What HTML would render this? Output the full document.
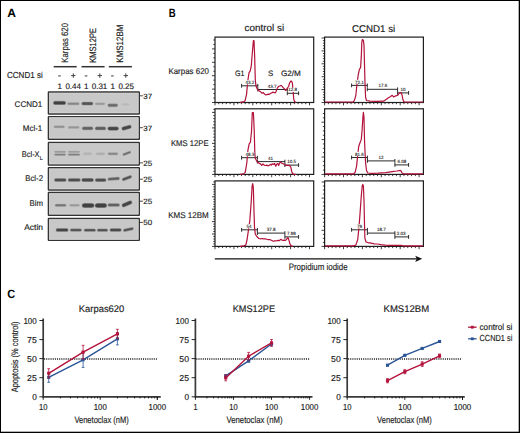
<!DOCTYPE html>
<html><head><meta charset="utf-8"><style>
html,body{margin:0;padding:0;background:#fff;}
svg{display:block;}
text{font-family:"Liberation Sans", sans-serif;text-rendering:geometricPrecision;}
</style></head><body>
<svg width="520" height="433" viewBox="0 0 520 433">
<rect x="0" y="0" width="520" height="433" fill="#000"/>
<rect x="1" y="1" width="517.7" height="430.7" fill="#fff"/>
<text x="7.2" y="16.8" font-size="12" text-anchor="start" font-weight="bold" fill="#000" textLength="8.7" lengthAdjust="spacingAndGlyphs" >A</text>
<text transform="translate(68.3,62.7) rotate(-90)" x="0" y="0" font-size="9.3" fill="#1a1a1a" stroke="#1a1a1a" stroke-width="0.15" textLength="39.7" lengthAdjust="spacingAndGlyphs">Karpas 620</text>
<text transform="translate(96.1,62.7) rotate(-90)" x="0" y="0" font-size="9.3" fill="#1a1a1a" stroke="#1a1a1a" stroke-width="0.15" textLength="34.6" lengthAdjust="spacingAndGlyphs">KMS12PE</text>
<text transform="translate(122.8,62.7) rotate(-90)" x="0" y="0" font-size="9.3" fill="#1a1a1a" stroke="#1a1a1a" stroke-width="0.15" textLength="38.2" lengthAdjust="spacingAndGlyphs">KMS12BM</text>
<line x1="53.7" y1="66.7" x2="76.7" y2="66.7" stroke="#333" stroke-width="1.5"/>
<line x1="81.5" y1="66.7" x2="104.6" y2="66.7" stroke="#333" stroke-width="1.5"/>
<line x1="108.8" y1="66.7" x2="131.9" y2="66.7" stroke="#333" stroke-width="1.5"/>
<text x="7" y="78.3" font-size="8.7" text-anchor="start" font-weight="normal" fill="#1a1a1a" stroke="#1a1a1a" stroke-width="0.15" textLength="35.7" lengthAdjust="spacingAndGlyphs" >CCND1 si</text>
<line x1="58.2" y1="75.9" x2="60.8" y2="75.9" stroke="#666" stroke-width="1.3"/>
<line x1="84.8" y1="75.9" x2="87.39999999999999" y2="75.9" stroke="#666" stroke-width="1.3"/>
<line x1="111.10000000000001" y1="75.9" x2="113.7" y2="75.9" stroke="#666" stroke-width="1.3"/>
<path d="M71.1 75.6 H75.5 M73.3 73.4 V77.8" stroke="#333" stroke-width="0.9"/>
<path d="M97.6 75.6 H102.0 M99.8 73.4 V77.8" stroke="#333" stroke-width="0.9"/>
<path d="M123.6 75.6 H128.0 M125.8 73.4 V77.8" stroke="#333" stroke-width="0.9"/>
<text x="59.8" y="89" font-size="8" text-anchor="middle" font-weight="normal" fill="#1a1a1a" stroke="#1a1a1a" stroke-width="0.15" >1</text>
<text x="73.2" y="89" font-size="8" text-anchor="middle" font-weight="normal" fill="#1a1a1a" stroke="#1a1a1a" stroke-width="0.15" >0.44</text>
<text x="86.3" y="89" font-size="8" text-anchor="middle" font-weight="normal" fill="#1a1a1a" stroke="#1a1a1a" stroke-width="0.15" >1</text>
<text x="99.5" y="89" font-size="8" text-anchor="middle" font-weight="normal" fill="#1a1a1a" stroke="#1a1a1a" stroke-width="0.15" >0.31</text>
<text x="112.7" y="89" font-size="8" text-anchor="middle" font-weight="normal" fill="#1a1a1a" stroke="#1a1a1a" stroke-width="0.15" >1</text>
<text x="126.2" y="89" font-size="8" text-anchor="middle" font-weight="normal" fill="#1a1a1a" stroke="#1a1a1a" stroke-width="0.15" >0.25</text>
<defs><filter id="bl" x="-20%" y="-20%" width="140%" height="140%"><feGaussianBlur stdDeviation="0.7"/></filter></defs>
<rect x="48.4" y="92.0" width="90.9" height="21.95" rx="0.3" fill="#c8c8c8" stroke="#333333" stroke-width="1.4"/>
<rect x="49.6" y="93.2" width="88.5" height="19.55" fill="none" stroke="#d6d6d6" stroke-width="0.7"/>
<g><path d="M55.04 102.9 H64.06" stroke="rgb(57,57,57)" stroke-opacity="0.3" stroke-width="4.10" stroke-linecap="round" transform="rotate(0.0 59.55 102.9)"/><path d="M55.04 102.9 H64.06" stroke="rgb(57,57,57)" stroke-opacity="0.5" stroke-width="3.30" stroke-linecap="round" transform="rotate(0.0 59.55 102.9)"/><path d="M55.04 102.9 H64.06" stroke="rgb(57,57,57)" stroke-opacity="0.85" stroke-width="2.50" stroke-linecap="round" transform="rotate(0.0 59.55 102.9)"/><path d="M68.60 103.7 H78.10" stroke="rgb(132,132,132)" stroke-opacity="0.3" stroke-width="3.00" stroke-linecap="round" transform="rotate(0.0 73.35 103.7)"/><path d="M68.60 103.7 H78.10" stroke="rgb(132,132,132)" stroke-opacity="0.5" stroke-width="2.20" stroke-linecap="round" transform="rotate(0.0 73.35 103.7)"/><path d="M68.60 103.7 H78.10" stroke="rgb(132,132,132)" stroke-opacity="0.85" stroke-width="1.40" stroke-linecap="round" transform="rotate(0.0 73.35 103.7)"/><path d="M83.22 103.6 H91.48" stroke="rgb(77,77,77)" stroke-opacity="0.3" stroke-width="3.80" stroke-linecap="round" transform="rotate(0.0 87.35 103.6)"/><path d="M83.22 103.6 H91.48" stroke="rgb(77,77,77)" stroke-opacity="0.5" stroke-width="3.00" stroke-linecap="round" transform="rotate(0.0 87.35 103.6)"/><path d="M83.22 103.6 H91.48" stroke="rgb(77,77,77)" stroke-opacity="0.85" stroke-width="2.20" stroke-linecap="round" transform="rotate(0.0 87.35 103.6)"/><path d="M96.32 103.8 H103.78" stroke="rgb(147,147,147)" stroke-opacity="0.3" stroke-width="2.80" stroke-linecap="round" transform="rotate(0.0 100.05000000000001 103.8)"/><path d="M96.32 103.8 H103.78" stroke="rgb(147,147,147)" stroke-opacity="0.5" stroke-width="2.00" stroke-linecap="round" transform="rotate(0.0 100.05000000000001 103.8)"/><path d="M96.32 103.8 H103.78" stroke="rgb(147,147,147)" stroke-opacity="0.85" stroke-width="1.20" stroke-linecap="round" transform="rotate(0.0 100.05000000000001 103.8)"/><path d="M109.28 105.3 H116.22" stroke="rgb(102,102,102)" stroke-opacity="0.3" stroke-width="3.70" stroke-linecap="round" transform="rotate(0.0 112.75 105.3)"/><path d="M109.28 105.3 H116.22" stroke="rgb(102,102,102)" stroke-opacity="0.5" stroke-width="2.90" stroke-linecap="round" transform="rotate(0.0 112.75 105.3)"/><path d="M109.28 105.3 H116.22" stroke="rgb(102,102,102)" stroke-opacity="0.85" stroke-width="2.10" stroke-linecap="round" transform="rotate(0.0 112.75 105.3)"/><path d="M122.62 104.4 H128.48" stroke="rgb(182,182,182)" stroke-opacity="0.3" stroke-width="2.30" stroke-linecap="round" transform="rotate(0.0 125.55 104.4)"/><path d="M122.62 104.4 H128.48" stroke="rgb(182,182,182)" stroke-opacity="0.5" stroke-width="1.50" stroke-linecap="round" transform="rotate(0.0 125.55 104.4)"/><path d="M122.62 104.4 H128.48" stroke="rgb(182,182,182)" stroke-opacity="0.85" stroke-width="0.70" stroke-linecap="round" transform="rotate(0.0 125.55 104.4)"/></g>
<rect x="48.4" y="116.60000000000001" width="90.9" height="22.60" rx="0.3" fill="#c8c8c8" stroke="#333333" stroke-width="1.4"/>
<rect x="49.6" y="117.80000000000001" width="88.5" height="20.20" fill="none" stroke="#d6d6d6" stroke-width="0.7"/>
<g><path d="M55.14 126.8 H63.36" stroke="rgb(142,142,142)" stroke-opacity="0.3" stroke-width="3.10" stroke-linecap="round" transform="rotate(0.0 59.25 126.8)"/><path d="M55.14 126.8 H63.36" stroke="rgb(142,142,142)" stroke-opacity="0.5" stroke-width="2.30" stroke-linecap="round" transform="rotate(0.0 59.25 126.8)"/><path d="M55.14 126.8 H63.36" stroke="rgb(142,142,142)" stroke-opacity="0.85" stroke-width="1.50" stroke-linecap="round" transform="rotate(0.0 59.25 126.8)"/><path d="M69.30 127.4 H78.10" stroke="rgb(147,147,147)" stroke-opacity="0.3" stroke-width="3.00" stroke-linecap="round" transform="rotate(0.0 73.69999999999999 127.4)"/><path d="M69.30 127.4 H78.10" stroke="rgb(147,147,147)" stroke-opacity="0.5" stroke-width="2.20" stroke-linecap="round" transform="rotate(0.0 73.69999999999999 127.4)"/><path d="M69.30 127.4 H78.10" stroke="rgb(147,147,147)" stroke-opacity="0.85" stroke-width="1.40" stroke-linecap="round" transform="rotate(0.0 73.69999999999999 127.4)"/><path d="M83.72 128.3 H91.48" stroke="rgb(92,92,92)" stroke-opacity="0.3" stroke-width="3.80" stroke-linecap="round" transform="rotate(0.0 87.6 128.3)"/><path d="M83.72 128.3 H91.48" stroke="rgb(92,92,92)" stroke-opacity="0.5" stroke-width="3.00" stroke-linecap="round" transform="rotate(0.0 87.6 128.3)"/><path d="M83.72 128.3 H91.48" stroke="rgb(92,92,92)" stroke-opacity="0.85" stroke-width="2.20" stroke-linecap="round" transform="rotate(0.0 87.6 128.3)"/><path d="M96.76 128.4 H104.24" stroke="rgb(87,87,87)" stroke-opacity="0.3" stroke-width="3.90" stroke-linecap="round" transform="rotate(0.0 100.5 128.4)"/><path d="M96.76 128.4 H104.24" stroke="rgb(87,87,87)" stroke-opacity="0.5" stroke-width="3.10" stroke-linecap="round" transform="rotate(0.0 100.5 128.4)"/><path d="M96.76 128.4 H104.24" stroke="rgb(87,87,87)" stroke-opacity="0.85" stroke-width="2.30" stroke-linecap="round" transform="rotate(0.0 100.5 128.4)"/><path d="M109.52 128.6 H116.78" stroke="rgb(62,62,62)" stroke-opacity="0.3" stroke-width="4.30" stroke-linecap="round" transform="rotate(0.0 113.15 128.6)"/><path d="M109.52 128.6 H116.78" stroke="rgb(62,62,62)" stroke-opacity="0.5" stroke-width="3.50" stroke-linecap="round" transform="rotate(0.0 113.15 128.6)"/><path d="M109.52 128.6 H116.78" stroke="rgb(62,62,62)" stroke-opacity="0.85" stroke-width="2.70" stroke-linecap="round" transform="rotate(0.0 113.15 128.6)"/><path d="M123.34 127.7 H129.76" stroke="rgb(62,62,62)" stroke-opacity="0.3" stroke-width="4.10" stroke-linecap="round" transform="rotate(-15.6 126.55 127.7)"/><path d="M123.34 127.7 H129.76" stroke="rgb(62,62,62)" stroke-opacity="0.5" stroke-width="3.30" stroke-linecap="round" transform="rotate(-15.6 126.55 127.7)"/><path d="M123.34 127.7 H129.76" stroke="rgb(62,62,62)" stroke-opacity="0.85" stroke-width="2.50" stroke-linecap="round" transform="rotate(-15.6 126.55 127.7)"/></g>
<rect x="48.4" y="142.5" width="90.9" height="22.55" rx="0.3" fill="#c8c8c8" stroke="#333333" stroke-width="1.4"/>
<rect x="49.6" y="143.70000000000002" width="88.5" height="20.15" fill="none" stroke="#d6d6d6" stroke-width="0.7"/>
<g><path d="M55.28 151.8 H64.82" stroke="rgb(142,142,142)" stroke-opacity="0.3" stroke-width="2.20" stroke-linecap="round" transform="rotate(0.0 60.05 151.8)"/><path d="M55.28 151.8 H64.82" stroke="rgb(142,142,142)" stroke-opacity="0.5" stroke-width="1.40" stroke-linecap="round" transform="rotate(0.0 60.05 151.8)"/><path d="M55.28 151.8 H64.82" stroke="rgb(142,142,142)" stroke-opacity="0.85" stroke-width="0.60" stroke-linecap="round" transform="rotate(0.0 60.05 151.8)"/><path d="M55.36 154.6 H64.74" stroke="rgb(117,117,117)" stroke-opacity="0.3" stroke-width="2.40" stroke-linecap="round" transform="rotate(0.0 60.05 154.6)"/><path d="M55.36 154.6 H64.74" stroke="rgb(117,117,117)" stroke-opacity="0.5" stroke-width="1.60" stroke-linecap="round" transform="rotate(0.0 60.05 154.6)"/><path d="M55.36 154.6 H64.74" stroke="rgb(117,117,117)" stroke-opacity="0.85" stroke-width="0.80" stroke-linecap="round" transform="rotate(0.0 60.05 154.6)"/><path d="M68.98 151.8 H79.02" stroke="rgb(147,147,147)" stroke-opacity="0.3" stroke-width="2.20" stroke-linecap="round" transform="rotate(0.0 74.0 151.8)"/><path d="M68.98 151.8 H79.02" stroke="rgb(147,147,147)" stroke-opacity="0.5" stroke-width="1.40" stroke-linecap="round" transform="rotate(0.0 74.0 151.8)"/><path d="M68.98 151.8 H79.02" stroke="rgb(147,147,147)" stroke-opacity="0.85" stroke-width="0.60" stroke-linecap="round" transform="rotate(0.0 74.0 151.8)"/><path d="M69.06 154.6 H78.94" stroke="rgb(117,117,117)" stroke-opacity="0.3" stroke-width="2.40" stroke-linecap="round" transform="rotate(0.0 74.0 154.6)"/><path d="M69.06 154.6 H78.94" stroke="rgb(117,117,117)" stroke-opacity="0.5" stroke-width="1.60" stroke-linecap="round" transform="rotate(0.0 74.0 154.6)"/><path d="M69.06 154.6 H78.94" stroke="rgb(117,117,117)" stroke-opacity="0.85" stroke-width="0.80" stroke-linecap="round" transform="rotate(0.0 74.0 154.6)"/><path d="M84.54 153.8 H90.66" stroke="rgb(177,177,177)" stroke-opacity="0.3" stroke-width="3.10" stroke-linecap="round" transform="rotate(0.0 87.6 153.8)"/><path d="M84.54 153.8 H90.66" stroke="rgb(177,177,177)" stroke-opacity="0.5" stroke-width="2.30" stroke-linecap="round" transform="rotate(0.0 87.6 153.8)"/><path d="M84.54 153.8 H90.66" stroke="rgb(177,177,177)" stroke-opacity="0.85" stroke-width="1.50" stroke-linecap="round" transform="rotate(0.0 87.6 153.8)"/><path d="M97.14 153.8 H103.66" stroke="rgb(172,172,172)" stroke-opacity="0.3" stroke-width="3.10" stroke-linecap="round" transform="rotate(0.0 100.4 153.8)"/><path d="M97.14 153.8 H103.66" stroke="rgb(172,172,172)" stroke-opacity="0.5" stroke-width="2.30" stroke-linecap="round" transform="rotate(0.0 100.4 153.8)"/><path d="M97.14 153.8 H103.66" stroke="rgb(172,172,172)" stroke-opacity="0.85" stroke-width="1.50" stroke-linecap="round" transform="rotate(0.0 100.4 153.8)"/><path d="M108.96 153.8 H116.84" stroke="rgb(127,127,127)" stroke-opacity="0.3" stroke-width="2.90" stroke-linecap="round" transform="rotate(0.0 112.9 153.8)"/><path d="M108.96 153.8 H116.84" stroke="rgb(127,127,127)" stroke-opacity="0.5" stroke-width="2.10" stroke-linecap="round" transform="rotate(0.0 112.9 153.8)"/><path d="M108.96 153.8 H116.84" stroke="rgb(127,127,127)" stroke-opacity="0.85" stroke-width="1.30" stroke-linecap="round" transform="rotate(0.0 112.9 153.8)"/><path d="M123.62 153.4 H129.98" stroke="rgb(102,102,102)" stroke-opacity="0.3" stroke-width="2.80" stroke-linecap="round" transform="rotate(-21.3 126.80000000000001 153.4)"/><path d="M123.62 153.4 H129.98" stroke="rgb(102,102,102)" stroke-opacity="0.5" stroke-width="2.00" stroke-linecap="round" transform="rotate(-21.3 126.80000000000001 153.4)"/><path d="M123.62 153.4 H129.98" stroke="rgb(102,102,102)" stroke-opacity="0.85" stroke-width="1.20" stroke-linecap="round" transform="rotate(-21.3 126.80000000000001 153.4)"/></g>
<rect x="48.4" y="167.7" width="90.9" height="22.30" rx="0.3" fill="#c8c8c8" stroke="#333333" stroke-width="1.4"/>
<rect x="49.6" y="168.9" width="88.5" height="19.90" fill="none" stroke="#d6d6d6" stroke-width="0.7"/>
<g><path d="M55.92 180 H64.68" stroke="rgb(72,72,72)" stroke-opacity="0.3" stroke-width="3.80" stroke-linecap="round" transform="rotate(0.0 60.3 180)"/><path d="M55.92 180 H64.68" stroke="rgb(72,72,72)" stroke-opacity="0.5" stroke-width="3.00" stroke-linecap="round" transform="rotate(0.0 60.3 180)"/><path d="M55.92 180 H64.68" stroke="rgb(72,72,72)" stroke-opacity="0.85" stroke-width="2.20" stroke-linecap="round" transform="rotate(0.0 60.3 180)"/><path d="M69.62 180 H78.88" stroke="rgb(72,72,72)" stroke-opacity="0.3" stroke-width="3.80" stroke-linecap="round" transform="rotate(0.0 74.25 180)"/><path d="M69.62 180 H78.88" stroke="rgb(72,72,72)" stroke-opacity="0.5" stroke-width="3.00" stroke-linecap="round" transform="rotate(0.0 74.25 180)"/><path d="M69.62 180 H78.88" stroke="rgb(72,72,72)" stroke-opacity="0.85" stroke-width="2.20" stroke-linecap="round" transform="rotate(0.0 74.25 180)"/><path d="M83.30 180 H91.90" stroke="rgb(67,67,67)" stroke-opacity="0.3" stroke-width="4.00" stroke-linecap="round" transform="rotate(0.0 87.6 180)"/><path d="M83.30 180 H91.90" stroke="rgb(67,67,67)" stroke-opacity="0.5" stroke-width="3.20" stroke-linecap="round" transform="rotate(0.0 87.6 180)"/><path d="M83.30 180 H91.90" stroke="rgb(67,67,67)" stroke-opacity="0.85" stroke-width="2.40" stroke-linecap="round" transform="rotate(0.0 87.6 180)"/><path d="M96.72 180.1 H104.58" stroke="rgb(72,72,72)" stroke-opacity="0.3" stroke-width="3.80" stroke-linecap="round" transform="rotate(0.0 100.65 180.1)"/><path d="M96.72 180.1 H104.58" stroke="rgb(72,72,72)" stroke-opacity="0.5" stroke-width="3.00" stroke-linecap="round" transform="rotate(0.0 100.65 180.1)"/><path d="M96.72 180.1 H104.58" stroke="rgb(72,72,72)" stroke-opacity="0.85" stroke-width="2.20" stroke-linecap="round" transform="rotate(0.0 100.65 180.1)"/><path d="M109.16 178.8 H118.24" stroke="rgb(92,92,92)" stroke-opacity="0.3" stroke-width="3.40" stroke-linecap="round" transform="rotate(-4.0 113.7 178.8)"/><path d="M109.16 178.8 H118.24" stroke="rgb(92,92,92)" stroke-opacity="0.5" stroke-width="2.60" stroke-linecap="round" transform="rotate(-4.0 113.7 178.8)"/><path d="M109.16 178.8 H118.24" stroke="rgb(92,92,92)" stroke-opacity="0.85" stroke-width="1.80" stroke-linecap="round" transform="rotate(-4.0 113.7 178.8)"/><path d="M123.36 178.1 H130.54" stroke="rgb(77,77,77)" stroke-opacity="0.3" stroke-width="3.40" stroke-linecap="round" transform="rotate(-20.8 126.94999999999999 178.1)"/><path d="M123.36 178.1 H130.54" stroke="rgb(77,77,77)" stroke-opacity="0.5" stroke-width="2.60" stroke-linecap="round" transform="rotate(-20.8 126.94999999999999 178.1)"/><path d="M123.36 178.1 H130.54" stroke="rgb(77,77,77)" stroke-opacity="0.85" stroke-width="1.80" stroke-linecap="round" transform="rotate(-20.8 126.94999999999999 178.1)"/></g>
<rect x="48.4" y="192.5" width="90.9" height="22.70" rx="0.3" fill="#c8c8c8" stroke="#333333" stroke-width="1.4"/>
<rect x="49.6" y="193.70000000000002" width="88.5" height="20.30" fill="none" stroke="#d6d6d6" stroke-width="0.7"/>
<g><path d="M56.20 205.3 H65.00" stroke="rgb(112,112,112)" stroke-opacity="0.3" stroke-width="3.00" stroke-linecap="round" transform="rotate(0.0 60.6 205.3)"/><path d="M56.20 205.3 H65.00" stroke="rgb(112,112,112)" stroke-opacity="0.5" stroke-width="2.20" stroke-linecap="round" transform="rotate(0.0 60.6 205.3)"/><path d="M56.20 205.3 H65.00" stroke="rgb(112,112,112)" stroke-opacity="0.85" stroke-width="1.40" stroke-linecap="round" transform="rotate(0.0 60.6 205.3)"/><path d="M70.48 205.3 H78.52" stroke="rgb(147,147,147)" stroke-opacity="0.3" stroke-width="2.70" stroke-linecap="round" transform="rotate(0.0 74.5 205.3)"/><path d="M70.48 205.3 H78.52" stroke="rgb(147,147,147)" stroke-opacity="0.5" stroke-width="1.90" stroke-linecap="round" transform="rotate(0.0 74.5 205.3)"/><path d="M70.48 205.3 H78.52" stroke="rgb(147,147,147)" stroke-opacity="0.85" stroke-width="1.10" stroke-linecap="round" transform="rotate(0.0 74.5 205.3)"/><path d="M84.20 205.5 H92.00" stroke="rgb(57,57,57)" stroke-opacity="0.3" stroke-width="5.00" stroke-linecap="round" transform="rotate(0.0 88.1 205.5)"/><path d="M84.20 205.5 H92.00" stroke="rgb(57,57,57)" stroke-opacity="0.5" stroke-width="4.20" stroke-linecap="round" transform="rotate(0.0 88.1 205.5)"/><path d="M84.20 205.5 H92.00" stroke="rgb(57,57,57)" stroke-opacity="0.85" stroke-width="3.40" stroke-linecap="round" transform="rotate(0.0 88.1 205.5)"/><path d="M97.20 205.5 H104.60" stroke="rgb(57,57,57)" stroke-opacity="0.3" stroke-width="5.00" stroke-linecap="round" transform="rotate(0.0 100.9 205.5)"/><path d="M97.20 205.5 H104.60" stroke="rgb(57,57,57)" stroke-opacity="0.5" stroke-width="4.20" stroke-linecap="round" transform="rotate(0.0 100.9 205.5)"/><path d="M97.20 205.5 H104.60" stroke="rgb(57,57,57)" stroke-opacity="0.85" stroke-width="3.40" stroke-linecap="round" transform="rotate(0.0 100.9 205.5)"/><path d="M109.28 205 H118.12" stroke="rgb(92,92,92)" stroke-opacity="0.3" stroke-width="3.70" stroke-linecap="round" transform="rotate(0.0 113.7 205)"/><path d="M109.28 205 H118.12" stroke="rgb(92,92,92)" stroke-opacity="0.5" stroke-width="2.90" stroke-linecap="round" transform="rotate(0.0 113.7 205)"/><path d="M109.28 205 H118.12" stroke="rgb(92,92,92)" stroke-opacity="0.85" stroke-width="2.10" stroke-linecap="round" transform="rotate(0.0 113.7 205)"/><path d="M123.38 203.9 H130.52" stroke="rgb(62,62,62)" stroke-opacity="0.3" stroke-width="4.20" stroke-linecap="round" transform="rotate(-22.6 126.95 203.9)"/><path d="M123.38 203.9 H130.52" stroke="rgb(62,62,62)" stroke-opacity="0.5" stroke-width="3.40" stroke-linecap="round" transform="rotate(-22.6 126.95 203.9)"/><path d="M123.38 203.9 H130.52" stroke="rgb(62,62,62)" stroke-opacity="0.85" stroke-width="2.60" stroke-linecap="round" transform="rotate(-22.6 126.95 203.9)"/></g>
<rect x="48.4" y="218.5" width="90.9" height="21.90" rx="0.3" fill="#c8c8c8" stroke="#333333" stroke-width="1.4"/>
<rect x="49.6" y="219.70000000000002" width="88.5" height="19.50" fill="none" stroke="#d6d6d6" stroke-width="0.7"/>
<g><path d="M57.52 230 H66.68" stroke="rgb(62,62,62)" stroke-opacity="0.3" stroke-width="3.80" stroke-linecap="round" transform="rotate(0.0 62.1 230)"/><path d="M57.52 230 H66.68" stroke="rgb(62,62,62)" stroke-opacity="0.5" stroke-width="3.00" stroke-linecap="round" transform="rotate(0.0 62.1 230)"/><path d="M57.52 230 H66.68" stroke="rgb(62,62,62)" stroke-opacity="0.85" stroke-width="2.20" stroke-linecap="round" transform="rotate(0.0 62.1 230)"/><path d="M71.52 230.1 H80.28" stroke="rgb(77,77,77)" stroke-opacity="0.3" stroke-width="3.30" stroke-linecap="round" transform="rotate(0.0 75.9 230.1)"/><path d="M71.52 230.1 H80.28" stroke="rgb(77,77,77)" stroke-opacity="0.5" stroke-width="2.50" stroke-linecap="round" transform="rotate(0.0 75.9 230.1)"/><path d="M71.52 230.1 H80.28" stroke="rgb(77,77,77)" stroke-opacity="0.85" stroke-width="1.70" stroke-linecap="round" transform="rotate(0.0 75.9 230.1)"/><path d="M85.42 230.2 H94.28" stroke="rgb(77,77,77)" stroke-opacity="0.3" stroke-width="3.30" stroke-linecap="round" transform="rotate(0.0 89.85 230.2)"/><path d="M85.42 230.2 H94.28" stroke="rgb(77,77,77)" stroke-opacity="0.5" stroke-width="2.50" stroke-linecap="round" transform="rotate(0.0 89.85 230.2)"/><path d="M85.42 230.2 H94.28" stroke="rgb(77,77,77)" stroke-opacity="0.85" stroke-width="1.70" stroke-linecap="round" transform="rotate(0.0 89.85 230.2)"/><path d="M98.52 230.2 H106.38" stroke="rgb(77,77,77)" stroke-opacity="0.3" stroke-width="3.30" stroke-linecap="round" transform="rotate(0.0 102.45 230.2)"/><path d="M98.52 230.2 H106.38" stroke="rgb(77,77,77)" stroke-opacity="0.5" stroke-width="2.50" stroke-linecap="round" transform="rotate(0.0 102.45 230.2)"/><path d="M98.52 230.2 H106.38" stroke="rgb(77,77,77)" stroke-opacity="0.85" stroke-width="1.70" stroke-linecap="round" transform="rotate(0.0 102.45 230.2)"/><path d="M111.38 230 H119.82" stroke="rgb(67,67,67)" stroke-opacity="0.3" stroke-width="3.70" stroke-linecap="round" transform="rotate(0.0 115.6 230)"/><path d="M111.38 230 H119.82" stroke="rgb(67,67,67)" stroke-opacity="0.5" stroke-width="2.90" stroke-linecap="round" transform="rotate(0.0 115.6 230)"/><path d="M111.38 230 H119.82" stroke="rgb(67,67,67)" stroke-opacity="0.85" stroke-width="2.10" stroke-linecap="round" transform="rotate(0.0 115.6 230)"/><path d="M124.62 229.5 H132.18" stroke="rgb(77,77,77)" stroke-opacity="0.3" stroke-width="3.30" stroke-linecap="round" transform="rotate(-12.1 128.4 229.5)"/><path d="M124.62 229.5 H132.18" stroke="rgb(77,77,77)" stroke-opacity="0.5" stroke-width="2.50" stroke-linecap="round" transform="rotate(-12.1 128.4 229.5)"/><path d="M124.62 229.5 H132.18" stroke="rgb(77,77,77)" stroke-opacity="0.85" stroke-width="1.70" stroke-linecap="round" transform="rotate(-12.1 128.4 229.5)"/></g>
<text x="14.6" y="106.5" font-size="8.3" text-anchor="start" font-weight="normal" fill="#1a1a1a" stroke="#1a1a1a" stroke-width="0.15" textLength="27.7" lengthAdjust="spacingAndGlyphs" >CCND1</text>
<text x="22.8" y="131.0" font-size="8.3" text-anchor="start" font-weight="normal" fill="#1a1a1a" stroke="#1a1a1a" stroke-width="0.15" textLength="19.5" lengthAdjust="spacingAndGlyphs" >Mcl-1</text>
<text x="21.8" y="156.7" font-size="8.3" text-anchor="start" font-weight="normal" fill="#1a1a1a" stroke="#1a1a1a" stroke-width="0.15" textLength="17.8" lengthAdjust="spacingAndGlyphs" >Bcl-X</text>
<text x="25.2" y="181.3" font-size="8.3" text-anchor="start" font-weight="normal" fill="#1a1a1a" stroke="#1a1a1a" stroke-width="0.15" textLength="17.8" lengthAdjust="spacingAndGlyphs" >Bcl-2</text>
<text x="29.5" y="205.6" font-size="8.3" text-anchor="start" font-weight="normal" fill="#1a1a1a" stroke="#1a1a1a" stroke-width="0.15" textLength="13.5" lengthAdjust="spacingAndGlyphs" >Bim</text>
<text x="24.2" y="229.6" font-size="8.3" text-anchor="start" font-weight="normal" fill="#1a1a1a" stroke="#1a1a1a" stroke-width="0.15" textLength="18.8" lengthAdjust="spacingAndGlyphs" >Actin</text>
<text x="39.7" y="159.9" font-size="5.2" text-anchor="start" font-weight="normal" fill="#1a1a1a" stroke="#1a1a1a" stroke-width="0.15" textLength="3.0" lengthAdjust="spacingAndGlyphs" >L</text>
<line x1="139.6" y1="95.8" x2="142.9" y2="95.8" stroke="#333" stroke-width="0.9"/>
<text x="143.3" y="98.7" font-size="7.6" text-anchor="start" font-weight="normal" fill="#1a1a1a" stroke="#1a1a1a" stroke-width="0.15" textLength="8.9" lengthAdjust="spacingAndGlyphs" >37</text>
<line x1="139.6" y1="127.7" x2="142.9" y2="127.7" stroke="#333" stroke-width="0.9"/>
<text x="143.3" y="130.5" font-size="7.6" text-anchor="start" font-weight="normal" fill="#1a1a1a" stroke="#1a1a1a" stroke-width="0.15" textLength="8.9" lengthAdjust="spacingAndGlyphs" >37</text>
<line x1="139.6" y1="162.9" x2="142.9" y2="162.9" stroke="#333" stroke-width="0.9"/>
<text x="143.3" y="165.6" font-size="7.6" text-anchor="start" font-weight="normal" fill="#1a1a1a" stroke="#1a1a1a" stroke-width="0.15" textLength="8.9" lengthAdjust="spacingAndGlyphs" >25</text>
<line x1="139.6" y1="179.2" x2="142.9" y2="179.2" stroke="#333" stroke-width="0.9"/>
<text x="143.3" y="181.6" font-size="7.6" text-anchor="start" font-weight="normal" fill="#1a1a1a" stroke="#1a1a1a" stroke-width="0.15" textLength="8.9" lengthAdjust="spacingAndGlyphs" >25</text>
<line x1="139.6" y1="201.2" x2="142.9" y2="201.2" stroke="#333" stroke-width="0.9"/>
<text x="143.3" y="204.1" font-size="7.6" text-anchor="start" font-weight="normal" fill="#1a1a1a" stroke="#1a1a1a" stroke-width="0.15" textLength="8.9" lengthAdjust="spacingAndGlyphs" >25</text>
<line x1="139.6" y1="222.4" x2="142.9" y2="222.4" stroke="#333" stroke-width="0.9"/>
<text x="143.3" y="225.1" font-size="7.6" text-anchor="start" font-weight="normal" fill="#1a1a1a" stroke="#1a1a1a" stroke-width="0.15" textLength="8.9" lengthAdjust="spacingAndGlyphs" >50</text>
<text x="168.8" y="16.8" font-size="12" text-anchor="start" font-weight="bold" fill="#000" textLength="6.9" lengthAdjust="spacingAndGlyphs" >B</text>
<text x="264.4" y="31.35" font-size="9.8" text-anchor="middle" font-weight="normal" fill="#1a1a1a" stroke="#1a1a1a" stroke-width="0.15" textLength="39.6" lengthAdjust="spacingAndGlyphs" >control si</text>
<text x="373.6" y="31.6" font-size="9.8" text-anchor="middle" font-weight="normal" fill="#1a1a1a" stroke="#1a1a1a" stroke-width="0.15" textLength="43.3" lengthAdjust="spacingAndGlyphs" >CCND1 si</text>
<text x="209" y="73.5" font-size="8.4" text-anchor="end" font-weight="normal" fill="#1a1a1a" stroke="#1a1a1a" stroke-width="0.15" textLength="40.6" lengthAdjust="spacingAndGlyphs" >Karpas 620</text>
<text x="208.5" y="145.6" font-size="8.4" text-anchor="end" font-weight="normal" fill="#1a1a1a" stroke="#1a1a1a" stroke-width="0.15" textLength="37.5" lengthAdjust="spacingAndGlyphs" >KMS 12PE</text>
<text x="208.75" y="217.7" font-size="8.4" text-anchor="end" font-weight="normal" fill="#1a1a1a" stroke="#1a1a1a" stroke-width="0.15" textLength="40.6" lengthAdjust="spacingAndGlyphs" >KMS 12BM</text>
<rect x="215" y="37.1" width="98.7" height="65.4" fill="none" stroke="#1e1e1e" stroke-width="1.2"/>
<path d="M212.0 102.50 H215 M213.3 98.03 H215 M213.3 93.57 H215 M212.0 89.10 H215 M213.3 84.63 H215 M213.3 80.17 H215 M212.0 75.70 H215 M213.3 71.23 H215 M213.3 66.77 H215 M212.0 62.30 H215 M213.3 57.83 H215 M213.3 53.37 H215 M212.0 48.90 H215 M213.3 44.43 H215 M213.3 39.97 H215 M215.00 102.5 V105.3 M218.78 102.5 V104.2 M222.56 102.5 V104.2 M226.34 102.5 V104.2 M230.12 102.5 V104.2 M233.90 102.5 V105.3 M237.68 102.5 V104.2 M241.46 102.5 V104.2 M245.24 102.5 V104.2 M249.02 102.5 V104.2 M252.80 102.5 V105.3 M256.58 102.5 V104.2 M260.36 102.5 V104.2 M264.14 102.5 V104.2 M267.92 102.5 V104.2 M271.70 102.5 V105.3 M275.48 102.5 V104.2 M279.26 102.5 V104.2 M283.04 102.5 V104.2 M286.82 102.5 V104.2 M290.60 102.5 V105.3 M294.38 102.5 V104.2 M298.16 102.5 V104.2 M301.94 102.5 V104.2 M305.72 102.5 V104.2 M309.50 102.5 V105.3" stroke="#1e1e1e" stroke-width="0.85" fill="none"/>
<rect x="215" y="108.8" width="98.7" height="65.6" fill="none" stroke="#1e1e1e" stroke-width="1.2"/>
<path d="M212.0 174.40 H215 M213.3 171.30 H215 M213.3 168.20 H215 M213.3 165.10 H215 M213.3 162.00 H215 M212.0 158.90 H215 M213.3 155.80 H215 M213.3 152.70 H215 M213.3 149.60 H215 M213.3 146.50 H215 M212.0 143.40 H215 M213.3 140.30 H215 M213.3 137.20 H215 M213.3 134.10 H215 M213.3 131.00 H215 M212.0 127.90 H215 M213.3 124.80 H215 M213.3 121.70 H215 M213.3 118.60 H215 M213.3 115.50 H215 M212.0 112.40 H215 M213.3 109.30 H215 M215.00 174.4 V177.2 M218.78 174.4 V176.1 M222.56 174.4 V176.1 M226.34 174.4 V176.1 M230.12 174.4 V176.1 M233.90 174.4 V177.2 M237.68 174.4 V176.1 M241.46 174.4 V176.1 M245.24 174.4 V176.1 M249.02 174.4 V176.1 M252.80 174.4 V177.2 M256.58 174.4 V176.1 M260.36 174.4 V176.1 M264.14 174.4 V176.1 M267.92 174.4 V176.1 M271.70 174.4 V177.2 M275.48 174.4 V176.1 M279.26 174.4 V176.1 M283.04 174.4 V176.1 M286.82 174.4 V176.1 M290.60 174.4 V177.2 M294.38 174.4 V176.1 M298.16 174.4 V176.1 M301.94 174.4 V176.1 M305.72 174.4 V176.1 M309.50 174.4 V177.2" stroke="#1e1e1e" stroke-width="0.85" fill="none"/>
<rect x="215" y="180.9" width="98.7" height="65.5" fill="none" stroke="#1e1e1e" stroke-width="1.2"/>
<path d="M212.0 246.40 H215 M213.3 243.92 H215 M213.3 241.44 H215 M213.3 238.96 H215 M213.3 236.48 H215 M212.0 234.00 H215 M213.3 231.52 H215 M213.3 229.04 H215 M213.3 226.56 H215 M213.3 224.08 H215 M212.0 221.60 H215 M213.3 219.12 H215 M213.3 216.64 H215 M213.3 214.16 H215 M213.3 211.68 H215 M212.0 209.20 H215 M213.3 206.72 H215 M213.3 204.24 H215 M213.3 201.76 H215 M213.3 199.28 H215 M212.0 196.80 H215 M213.3 194.32 H215 M213.3 191.84 H215 M213.3 189.36 H215 M213.3 186.88 H215 M212.0 184.40 H215 M213.3 181.92 H215 M215.00 246.4 V249.2 M218.78 246.4 V248.1 M222.56 246.4 V248.1 M226.34 246.4 V248.1 M230.12 246.4 V248.1 M233.90 246.4 V249.2 M237.68 246.4 V248.1 M241.46 246.4 V248.1 M245.24 246.4 V248.1 M249.02 246.4 V248.1 M252.80 246.4 V249.2 M256.58 246.4 V248.1 M260.36 246.4 V248.1 M264.14 246.4 V248.1 M267.92 246.4 V248.1 M271.70 246.4 V249.2 M275.48 246.4 V248.1 M279.26 246.4 V248.1 M283.04 246.4 V248.1 M286.82 246.4 V248.1 M290.60 246.4 V249.2 M294.38 246.4 V248.1 M298.16 246.4 V248.1 M301.94 246.4 V248.1 M305.72 246.4 V248.1 M309.50 246.4 V249.2" stroke="#1e1e1e" stroke-width="0.85" fill="none"/>
<rect x="324.6" y="37.1" width="98.8" height="65.4" fill="none" stroke="#1e1e1e" stroke-width="1.2"/>
<path d="M321.6 102.50 H324.6 M322.9 99.92 H324.6 M322.9 97.34 H324.6 M322.9 94.76 H324.6 M322.9 92.18 H324.6 M321.6 89.60 H324.6 M322.9 87.02 H324.6 M322.9 84.44 H324.6 M322.9 81.86 H324.6 M322.9 79.28 H324.6 M321.6 76.70 H324.6 M322.9 74.12 H324.6 M322.9 71.54 H324.6 M322.9 68.96 H324.6 M322.9 66.38 H324.6 M321.6 63.80 H324.6 M322.9 61.22 H324.6 M322.9 58.64 H324.6 M322.9 56.06 H324.6 M322.9 53.48 H324.6 M321.6 50.90 H324.6 M322.9 48.32 H324.6 M322.9 45.74 H324.6 M322.9 43.16 H324.6 M322.9 40.58 H324.6 M321.6 38.00 H324.6 M324.60 102.5 V105.3 M328.38 102.5 V104.2 M332.16 102.5 V104.2 M335.94 102.5 V104.2 M339.72 102.5 V104.2 M343.50 102.5 V105.3 M347.28 102.5 V104.2 M351.06 102.5 V104.2 M354.84 102.5 V104.2 M358.62 102.5 V104.2 M362.40 102.5 V105.3 M366.18 102.5 V104.2 M369.96 102.5 V104.2 M373.74 102.5 V104.2 M377.52 102.5 V104.2 M381.30 102.5 V105.3 M385.08 102.5 V104.2 M388.86 102.5 V104.2 M392.64 102.5 V104.2 M396.42 102.5 V104.2 M400.20 102.5 V105.3 M403.98 102.5 V104.2 M407.76 102.5 V104.2 M411.54 102.5 V104.2 M415.32 102.5 V104.2 M419.10 102.5 V105.3" stroke="#1e1e1e" stroke-width="0.85" fill="none"/>
<rect x="324.6" y="108.8" width="98.8" height="65.6" fill="none" stroke="#1e1e1e" stroke-width="1.2"/>
<path d="M321.6 174.40 H324.6 M322.9 170.05 H324.6 M322.9 165.70 H324.6 M322.9 161.35 H324.6 M321.6 157.00 H324.6 M322.9 152.65 H324.6 M322.9 148.30 H324.6 M322.9 143.95 H324.6 M321.6 139.60 H324.6 M322.9 135.25 H324.6 M322.9 130.90 H324.6 M322.9 126.55 H324.6 M321.6 122.20 H324.6 M322.9 117.85 H324.6 M322.9 113.50 H324.6 M324.60 174.4 V177.2 M328.38 174.4 V176.1 M332.16 174.4 V176.1 M335.94 174.4 V176.1 M339.72 174.4 V176.1 M343.50 174.4 V177.2 M347.28 174.4 V176.1 M351.06 174.4 V176.1 M354.84 174.4 V176.1 M358.62 174.4 V176.1 M362.40 174.4 V177.2 M366.18 174.4 V176.1 M369.96 174.4 V176.1 M373.74 174.4 V176.1 M377.52 174.4 V176.1 M381.30 174.4 V177.2 M385.08 174.4 V176.1 M388.86 174.4 V176.1 M392.64 174.4 V176.1 M396.42 174.4 V176.1 M400.20 174.4 V177.2 M403.98 174.4 V176.1 M407.76 174.4 V176.1 M411.54 174.4 V176.1 M415.32 174.4 V176.1 M419.10 174.4 V177.2" stroke="#1e1e1e" stroke-width="0.85" fill="none"/>
<rect x="324.6" y="180.9" width="98.8" height="65.5" fill="none" stroke="#1e1e1e" stroke-width="1.2"/>
<path d="M321.6 246.40 H324.6 M322.9 242.38 H324.6 M322.9 238.35 H324.6 M322.9 234.32 H324.6 M321.6 230.30 H324.6 M322.9 226.27 H324.6 M322.9 222.25 H324.6 M322.9 218.22 H324.6 M321.6 214.20 H324.6 M322.9 210.17 H324.6 M322.9 206.15 H324.6 M322.9 202.12 H324.6 M321.6 198.10 H324.6 M322.9 194.07 H324.6 M322.9 190.05 H324.6 M322.9 186.02 H324.6 M321.6 182.00 H324.6 M324.60 246.4 V249.2 M328.38 246.4 V248.1 M332.16 246.4 V248.1 M335.94 246.4 V248.1 M339.72 246.4 V248.1 M343.50 246.4 V249.2 M347.28 246.4 V248.1 M351.06 246.4 V248.1 M354.84 246.4 V248.1 M358.62 246.4 V248.1 M362.40 246.4 V249.2 M366.18 246.4 V248.1 M369.96 246.4 V248.1 M373.74 246.4 V248.1 M377.52 246.4 V248.1 M381.30 246.4 V249.2 M385.08 246.4 V248.1 M388.86 246.4 V248.1 M392.64 246.4 V248.1 M396.42 246.4 V248.1 M400.20 246.4 V249.2 M403.98 246.4 V248.1 M407.76 246.4 V248.1 M411.54 246.4 V248.1 M415.32 246.4 V248.1 M419.10 246.4 V249.2" stroke="#1e1e1e" stroke-width="0.85" fill="none"/>
<path d="M241.6 85.8 H257.8 M241.6 83.89999999999999 V87.7 M257.8 83.89999999999999 V87.7" stroke="#2a2a2a" stroke-width="1.0" fill="none"/>
<path d="M257.8 89.5 H287.3 M257.8 87.6 V91.4 M287.3 87.6 V91.4" stroke="#2a2a2a" stroke-width="1.0" fill="none"/>
<path d="M287.3 93.3 H298.6 M287.3 91.39999999999999 V95.2 M298.6 91.39999999999999 V95.2" stroke="#2a2a2a" stroke-width="1.0" fill="none"/>
<path d="M351.6 85.4 H367.3 M351.6 83.5 V87.30000000000001 M367.3 83.5 V87.30000000000001" stroke="#2a2a2a" stroke-width="1.0" fill="none"/>
<path d="M367.3 89.3 H397.6 M367.3 87.39999999999999 V91.2 M397.6 87.39999999999999 V91.2" stroke="#2a2a2a" stroke-width="1.0" fill="none"/>
<path d="M397.6 92.9 H408.6 M397.6 91.0 V94.80000000000001 M408.6 91.0 V94.80000000000001" stroke="#2a2a2a" stroke-width="1.0" fill="none"/>
<path d="M241.6 157.7 H257.4 M241.6 155.79999999999998 V159.6 M257.4 155.79999999999998 V159.6" stroke="#2a2a2a" stroke-width="1.0" fill="none"/>
<path d="M257.4 161.6 H284.9 M257.4 159.7 V163.5 M284.9 159.7 V163.5" stroke="#2a2a2a" stroke-width="1.0" fill="none"/>
<path d="M284.9 165.1 H298.6 M284.9 163.2 V167.0 M298.6 163.2 V167.0" stroke="#2a2a2a" stroke-width="1.0" fill="none"/>
<path d="M351.6 157.5 H367.4 M351.6 155.6 V159.4 M367.4 155.6 V159.4" stroke="#2a2a2a" stroke-width="1.0" fill="none"/>
<path d="M367.4 160.9 H394.9 M367.4 159.0 V162.8 M394.9 159.0 V162.8" stroke="#2a2a2a" stroke-width="1.0" fill="none"/>
<path d="M394.9 164.9 H408.6 M394.9 163.0 V166.8 M408.6 163.0 V166.8" stroke="#2a2a2a" stroke-width="1.0" fill="none"/>
<path d="M241.6 229.8 H257.4 M241.6 227.9 V231.70000000000002 M257.4 227.9 V231.70000000000002" stroke="#2a2a2a" stroke-width="1.0" fill="none"/>
<path d="M257.4 233.1 H284.9 M257.4 231.2 V235.0 M284.9 231.2 V235.0" stroke="#2a2a2a" stroke-width="1.0" fill="none"/>
<path d="M284.9 236.9 H298.6 M284.9 235.0 V238.8 M298.6 235.0 V238.8" stroke="#2a2a2a" stroke-width="1.0" fill="none"/>
<path d="M351.6 229.8 H367.4 M351.6 227.9 V231.70000000000002 M367.4 227.9 V231.70000000000002" stroke="#2a2a2a" stroke-width="1.0" fill="none"/>
<path d="M367.4 233.1 H394.9 M367.4 231.2 V235.0 M394.9 231.2 V235.0" stroke="#2a2a2a" stroke-width="1.0" fill="none"/>
<path d="M394.9 236.9 H408.6 M394.9 235.0 V238.8 M408.6 235.0 V238.8" stroke="#2a2a2a" stroke-width="1.0" fill="none"/>
<path d="M240.0 102.4 L243.6 101.9 L245.1 100.7 L246.6 94.1 L247.7 81.5 L249.0 72.9 L250.2 70.9 L251.3 65.8 L252.4 51.7 L253.4 40.6 L254.0 40.6 L254.6 54.8 L255.3 80.0 L256.0 86.1 L257.2 88.9 L258.4 90.5 L259.7 91.3 L260.9 92.1 L262.1 93.3 L263.3 92.5 L264.5 94.1 L265.7 94.9 L266.9 94.7 L268.1 94.1 L269.3 94.4 L270.6 93.3 L271.8 92.9 L273.0 92.1 L274.2 92.5 L275.2 92.9 L276.2 91.3 L277.0 88.9 L277.8 87.3 L279.0 86.3 L280.3 85.7 L281.5 85.5 L282.3 86.5 L283.1 87.7 L284.3 88.5 L285.1 90.1 L285.9 90.5 L286.7 89.5 L287.5 88.1 L288.6 86.5 L289.5 83.2 L290.8 81.2 L291.6 81.2 L292.4 83.2 L293.2 92.1 L293.8 99.5 L294.6 101.6 L296.0 102.4" fill="none" stroke="#b3123b" stroke-width="1.2" stroke-linejoin="round"/>
<path d="M325.2 102.0 L353.2 101.8 L354.3 100.7 L355.8 95.7 L357.1 83.1 L358.2 75.2 L359.3 69.8 L360.6 67.4 L361.3 56.4 L361.8 42.3 L362.4 39.5 L363.4 40.2 L364.0 45.4 L364.5 64.3 L365.0 83.1 L365.6 97.2 L366.5 100.5 L370.1 101.2 L376.4 101.4 L383.5 101.2 L386.0 99.5 L388.5 97.8 L390.6 96.6 L392.3 95.3 L393.6 97.0 L394.9 96.2 L396.6 95.7 L397.8 95.3 L398.7 94.0 L399.5 92.8 L401.2 92.6 L402.1 95.3 L402.9 99.5 L403.8 101.7 L405.0 102.0 L423.0 102.0" fill="none" stroke="#b3123b" stroke-width="1.2" stroke-linejoin="round"/>
<path d="M240.0 174.4 L243.6 173.9 L245.2 172.4 L246.8 163.0 L247.9 150.4 L249.1 144.1 L250.4 142.2 L251.5 131.5 L252.3 112.7 L253.4 112.7 L254.2 130.0 L254.8 152.0 L255.2 158.2 L257.2 161.9 L258.8 163.1 L260.5 163.9 L261.7 165.3 L262.9 164.0 L264.1 165.1 L265.3 165.5 L266.9 165.1 L268.1 165.9 L269.3 165.3 L270.6 164.3 L271.4 165.1 L272.2 163.9 L273.4 164.5 L274.6 163.5 L275.8 166.3 L276.6 164.3 L277.8 163.5 L278.6 165.5 L279.8 162.7 L280.7 162.1 L281.5 163.1 L282.7 163.5 L283.9 164.3 L285.1 165.1 L286.3 165.3 L287.9 165.3 L289.5 165.3 L290.8 167.1 L291.6 171.2 L292.6 173.6 L294.0 174.3 L296.0 174.4" fill="none" stroke="#b3123b" stroke-width="1.2" stroke-linejoin="round"/>
<path d="M325.2 173.8 L353.6 173.8 L355.1 172.4 L356.6 166.1 L357.7 155.1 L358.7 146.5 L359.8 143.3 L361.3 139.4 L362.1 130.0 L362.9 117.4 L363.4 112.4 L364.0 117.4 L364.5 139.4 L365.0 152.0 L365.6 163.0 L366.5 170.5 L367.8 173.0 L371.7 173.3 L378.0 173.2 L385.8 172.6 L392.1 171.6 L396.8 171.0 L400.4 170.3 L401.4 171.5 L402.3 173.2 L404.0 173.8 L405.0 173.8 L423.0 173.8" fill="none" stroke="#b3123b" stroke-width="1.2" stroke-linejoin="round"/>
<path d="M240.0 246.4 L243.6 245.9 L245.8 245.1 L247.0 240.0 L248.2 231.8 L249.8 220.8 L251.3 200.4 L252.1 186.3 L252.6 183.7 L253.1 185.5 L253.4 189.4 L254.0 211.4 L254.5 227.1 L255.3 234.2 L256.8 236.5 L258.2 237.8 L258.8 238.5 L260.5 238.8 L262.1 238.5 L263.7 238.9 L265.3 238.8 L266.9 239.3 L268.5 239.7 L270.2 239.7 L271.8 240.5 L273.4 241.3 L274.6 240.9 L275.8 240.9 L277.0 240.7 L278.2 240.4 L279.4 240.7 L280.7 239.3 L281.9 240.1 L283.1 240.4 L284.3 240.1 L285.5 240.4 L286.7 239.3 L287.5 237.7 L288.3 238.1 L289.1 240.9 L289.9 243.8 L291.2 245.8 L293.0 246.4" fill="none" stroke="#b3123b" stroke-width="1.2" stroke-linejoin="round"/>
<path d="M325.2 245.8 L353.6 245.8 L355.8 245.1 L357.7 239.7 L359.0 227.1 L360.2 211.4 L361.3 195.7 L362.2 186.0 L362.8 184.4 L363.4 186.0 L364.0 200.4 L364.5 224.0 L364.9 238.1 L366.0 242.0 L368.4 242.8 L370.1 242.9 L374.2 243.8 L377.5 244.0 L380.9 244.6 L385.2 245.1 L389.4 245.4 L395.0 245.4 L401.2 245.4 L403.0 245.8 L423.0 245.8" fill="none" stroke="#b3123b" stroke-width="1.2" stroke-linejoin="round"/>
<rect x="245.53" y="80.20" width="8.75" height="4.2" fill="#fff"/>
<text x="249.9" y="83.95" font-size="4.5" text-anchor="middle" font-weight="normal" fill="#222" stroke="#222" stroke-width="0.1" >43.2</text>
<rect x="267.82" y="83.90" width="8.75" height="4.2" fill="#fff"/>
<text x="272.2" y="87.65" font-size="4.5" text-anchor="middle" font-weight="normal" fill="#222" stroke="#222" stroke-width="0.1" >43.7</text>
<rect x="288.23" y="87.70" width="8.75" height="4.2" fill="#fff"/>
<text x="292.6" y="91.45" font-size="4.5" text-anchor="middle" font-weight="normal" fill="#222" stroke="#222" stroke-width="0.1" >12.8</text>
<rect x="354.93" y="79.80" width="8.75" height="4.2" fill="#fff"/>
<text x="359.3" y="83.55000000000001" font-size="4.5" text-anchor="middle" font-weight="normal" fill="#222" stroke="#222" stroke-width="0.1" >72.1</text>
<rect x="378.52" y="83.70" width="8.75" height="4.2" fill="#fff"/>
<text x="382.9" y="87.45" font-size="4.5" text-anchor="middle" font-weight="normal" fill="#222" stroke="#222" stroke-width="0.1" >17.6</text>
<rect x="400.15" y="87.30" width="5.50" height="4.2" fill="#fff"/>
<text x="402.9" y="91.05000000000001" font-size="4.5" text-anchor="middle" font-weight="normal" fill="#222" stroke="#222" stroke-width="0.1" >10</text>
<rect x="245.43" y="152.10" width="8.75" height="4.2" fill="#fff"/>
<text x="249.8" y="155.85" font-size="4.5" text-anchor="middle" font-weight="normal" fill="#222" stroke="#222" stroke-width="0.1" >48.3</text>
<rect x="267.65" y="156.00" width="5.50" height="4.2" fill="#fff"/>
<text x="270.4" y="159.75" font-size="4.5" text-anchor="middle" font-weight="normal" fill="#222" stroke="#222" stroke-width="0.1" >41</text>
<rect x="287.32" y="159.50" width="8.75" height="4.2" fill="#fff"/>
<text x="291.7" y="163.25" font-size="4.5" text-anchor="middle" font-weight="normal" fill="#222" stroke="#222" stroke-width="0.1" >10.5</text>
<rect x="355.02" y="151.90" width="8.75" height="4.2" fill="#fff"/>
<text x="359.4" y="155.65" font-size="4.5" text-anchor="middle" font-weight="normal" fill="#222" stroke="#222" stroke-width="0.1" >81.6</text>
<rect x="378.35" y="155.30" width="5.50" height="4.2" fill="#fff"/>
<text x="381.1" y="159.05" font-size="4.5" text-anchor="middle" font-weight="normal" fill="#222" stroke="#222" stroke-width="0.1" >12</text>
<rect x="397.43" y="159.30" width="8.75" height="4.2" fill="#fff"/>
<text x="401.8" y="163.05" font-size="4.5" text-anchor="middle" font-weight="normal" fill="#222" stroke="#222" stroke-width="0.1" >6.08</text>
<rect x="246.35" y="224.20" width="5.50" height="4.2" fill="#fff"/>
<text x="249.1" y="227.95000000000002" font-size="4.5" text-anchor="middle" font-weight="normal" fill="#222" stroke="#222" stroke-width="0.1" >54</text>
<rect x="266.73" y="227.50" width="8.75" height="4.2" fill="#fff"/>
<text x="271.1" y="231.25" font-size="4.5" text-anchor="middle" font-weight="normal" fill="#222" stroke="#222" stroke-width="0.1" >37.8</text>
<rect x="287.12" y="231.30" width="8.75" height="4.2" fill="#fff"/>
<text x="291.5" y="235.05" font-size="4.5" text-anchor="middle" font-weight="normal" fill="#222" stroke="#222" stroke-width="0.1" >7.99</text>
<rect x="356.65" y="224.20" width="5.50" height="4.2" fill="#fff"/>
<text x="359.4" y="227.95000000000002" font-size="4.5" text-anchor="middle" font-weight="normal" fill="#222" stroke="#222" stroke-width="0.1" >79</text>
<rect x="377.02" y="227.50" width="8.75" height="4.2" fill="#fff"/>
<text x="381.4" y="231.25" font-size="4.5" text-anchor="middle" font-weight="normal" fill="#222" stroke="#222" stroke-width="0.1" >18.7</text>
<rect x="396.82" y="231.30" width="8.75" height="4.2" fill="#fff"/>
<text x="401.2" y="235.05" font-size="4.5" text-anchor="middle" font-weight="normal" fill="#222" stroke="#222" stroke-width="0.1" >2.03</text>
<text x="239.8" y="76" font-size="7.8" text-anchor="middle" font-weight="normal" fill="#1a1a1a" stroke="#1a1a1a" stroke-width="0.15" textLength="9.4" lengthAdjust="spacingAndGlyphs" >G1</text>
<text x="270.7" y="76" font-size="7.8" text-anchor="middle" font-weight="normal" fill="#1a1a1a" stroke="#1a1a1a" stroke-width="0.15" >S</text>
<text x="290.85" y="76" font-size="7.8" text-anchor="middle" font-weight="normal" fill="#1a1a1a" stroke="#1a1a1a" stroke-width="0.15" textLength="19.9" lengthAdjust="spacingAndGlyphs" >G2/M</text>
<path d="M214.8 258.8 H419" stroke="#111" stroke-width="1.3"/>
<path d="M422.2 258.8 L415.2 255.7 L416.8 258.8 L415.2 261.9 Z" fill="#111"/>
<text x="347.6" y="270.3" font-size="9.4" text-anchor="end" font-weight="normal" fill="#1a1a1a" stroke="#1a1a1a" stroke-width="0.15" textLength="58.9" lengthAdjust="spacingAndGlyphs" >Propidium iodide</text>
<text x="7.3" y="298.2" font-size="12" text-anchor="start" font-weight="bold" fill="#000" textLength="7.9" lengthAdjust="spacingAndGlyphs" >C</text>
<text x="101.55" y="312.4" font-size="9.6" text-anchor="middle" font-weight="normal" fill="#1a1a1a" stroke="#1a1a1a" stroke-width="0.15" textLength="45.5" lengthAdjust="spacingAndGlyphs" >Karpas620</text>
<path d="M43.2 318.6 V396.8 H160.8" stroke="#3a3a3a" stroke-width="1.7" fill="none"/>
<text x="36.800000000000004" y="399.8" font-size="8.6" text-anchor="end" font-weight="normal" fill="#1a1a1a" stroke="#1a1a1a" stroke-width="0.15" textLength="4.6" lengthAdjust="spacingAndGlyphs" >0</text>
<text x="36.800000000000004" y="380.725" font-size="8.6" text-anchor="end" font-weight="normal" fill="#1a1a1a" stroke="#1a1a1a" stroke-width="0.15" textLength="9.7" lengthAdjust="spacingAndGlyphs" >25</text>
<text x="36.800000000000004" y="361.65" font-size="8.6" text-anchor="end" font-weight="normal" fill="#1a1a1a" stroke="#1a1a1a" stroke-width="0.15" textLength="9.7" lengthAdjust="spacingAndGlyphs" >50</text>
<text x="36.800000000000004" y="342.575" font-size="8.6" text-anchor="end" font-weight="normal" fill="#1a1a1a" stroke="#1a1a1a" stroke-width="0.15" textLength="9.7" lengthAdjust="spacingAndGlyphs" >75</text>
<text x="36.800000000000004" y="323.5" font-size="8.6" text-anchor="end" font-weight="normal" fill="#1a1a1a" stroke="#1a1a1a" stroke-width="0.15" textLength="13.4" lengthAdjust="spacingAndGlyphs" >100</text>
<path d="M39.400000000000006 396.8 H43.2 M39.400000000000006 377.7 H43.2 M39.400000000000006 358.6 H43.2 M39.400000000000006 339.6 H43.2 M39.400000000000006 320.5 H43.2 M43.2 396.8 V399.8 M60.4 396.8 V398.40000000000003 M70.4 396.8 V398.40000000000003 M77.5 396.8 V398.40000000000003 M83.1 396.8 V398.40000000000003 M87.6 396.8 V398.40000000000003 M91.4 396.8 V398.40000000000003 M94.7 396.8 V398.40000000000003 M97.6 396.8 V398.40000000000003 M100.2 396.8 V399.8 M117.4 396.8 V398.40000000000003 M127.5 396.8 V398.40000000000003 M134.6 396.8 V398.40000000000003 M140.1 396.8 V398.40000000000003 M144.6 396.8 V398.40000000000003 M148.5 396.8 V398.40000000000003 M151.8 396.8 V398.40000000000003 M154.7 396.8 V398.40000000000003 M157.3 396.8 V399.8 M157.3 396.8 V399.8" stroke="#111" stroke-width="0.9" fill="none"/>
<text x="43.2" y="409.8" font-size="8.6" text-anchor="middle" font-weight="normal" fill="#1a1a1a" stroke="#1a1a1a" stroke-width="0.15" textLength="8.4" lengthAdjust="spacingAndGlyphs" >10</text>
<text x="100.25" y="409.8" font-size="8.6" text-anchor="middle" font-weight="normal" fill="#1a1a1a" stroke="#1a1a1a" stroke-width="0.15" textLength="13.0" lengthAdjust="spacingAndGlyphs" >100</text>
<text x="157.3" y="409.8" font-size="8.6" text-anchor="middle" font-weight="normal" fill="#1a1a1a" stroke="#1a1a1a" stroke-width="0.15" textLength="17.5" lengthAdjust="spacingAndGlyphs" >1000</text>
<line x1="44.1" y1="359.00" x2="156.90" y2="359.00" stroke="#1a1a1a" stroke-width="1.7" stroke-dasharray="1.05 1.1"/>
<path d="M48.7 377.3 L83.1 359.8 L117.4 338.8" stroke="#2a5597" stroke-width="1.4" fill="none"/>
<path d="M48.7 372.4 V382.3 M47.3 372.4 H50.1 M47.3 382.3 H50.1" stroke="#2a5597" stroke-width="0.8" fill="none"/>
<rect x="47.18" y="375.79" width="3.1" height="3.1" fill="#2a5597"/>
<path d="M83.1 352.2 V367.4 M81.7 352.2 H84.5 M81.7 367.4 H84.5" stroke="#2a5597" stroke-width="0.8" fill="none"/>
<rect x="81.53" y="358.24" width="3.1" height="3.1" fill="#2a5597"/>
<path d="M117.4 332.7 V344.9 M116.0 332.7 H118.8 M116.0 344.9 H118.8" stroke="#2a5597" stroke-width="0.8" fill="none"/>
<rect x="115.87" y="337.26" width="3.1" height="3.1" fill="#2a5597"/>
<path d="M48.7 373.3 L83.1 352.2 L117.4 333.9" stroke="#b3123b" stroke-width="1.4" fill="none"/>
<path d="M48.7 368.7 V377.9 M47.3 368.7 H50.1 M47.3 377.9 H50.1" stroke="#b3123b" stroke-width="0.8" fill="none"/>
<rect x="47.18" y="371.75" width="3.1" height="3.1" fill="#b3123b"/>
<path d="M83.1 345.3 V359.0 M81.7 345.3 H84.5 M81.7 359.0 H84.5" stroke="#b3123b" stroke-width="0.8" fill="none"/>
<rect x="81.53" y="350.61" width="3.1" height="3.1" fill="#b3123b"/>
<path d="M117.4 329.3 V338.4 M116.0 329.3 H118.8 M116.0 338.4 H118.8" stroke="#b3123b" stroke-width="0.8" fill="none"/>
<rect x="115.87" y="332.30" width="3.1" height="3.1" fill="#b3123b"/>
<text x="101.6" y="423.2" font-size="9.4" text-anchor="middle" font-weight="normal" fill="#1a1a1a" stroke="#1a1a1a" stroke-width="0.15" textLength="54.4" lengthAdjust="spacingAndGlyphs" >Venetoclax (nM)</text>
<text transform="translate(17.6,392.3) rotate(-90)" font-size="9.4" fill="#1a1a1a" stroke="#1a1a1a" stroke-width="0.15" textLength="70.8" lengthAdjust="spacingAndGlyphs">Apoptosis (% control)</text>
<text x="253.9" y="312.4" font-size="9.6" text-anchor="middle" font-weight="normal" fill="#1a1a1a" stroke="#1a1a1a" stroke-width="0.15" textLength="42.3" lengthAdjust="spacingAndGlyphs" >KMS12PE</text>
<path d="M195.4 318.6 V396.8 H312.5" stroke="#3a3a3a" stroke-width="1.7" fill="none"/>
<text x="189.0" y="399.8" font-size="8.6" text-anchor="end" font-weight="normal" fill="#1a1a1a" stroke="#1a1a1a" stroke-width="0.15" textLength="4.6" lengthAdjust="spacingAndGlyphs" >0</text>
<text x="189.0" y="380.725" font-size="8.6" text-anchor="end" font-weight="normal" fill="#1a1a1a" stroke="#1a1a1a" stroke-width="0.15" textLength="9.7" lengthAdjust="spacingAndGlyphs" >25</text>
<text x="189.0" y="361.65" font-size="8.6" text-anchor="end" font-weight="normal" fill="#1a1a1a" stroke="#1a1a1a" stroke-width="0.15" textLength="9.7" lengthAdjust="spacingAndGlyphs" >50</text>
<text x="189.0" y="342.575" font-size="8.6" text-anchor="end" font-weight="normal" fill="#1a1a1a" stroke="#1a1a1a" stroke-width="0.15" textLength="9.7" lengthAdjust="spacingAndGlyphs" >75</text>
<text x="189.0" y="323.5" font-size="8.6" text-anchor="end" font-weight="normal" fill="#1a1a1a" stroke="#1a1a1a" stroke-width="0.15" textLength="13.4" lengthAdjust="spacingAndGlyphs" >100</text>
<path d="M191.6 396.8 H195.4 M191.6 377.7 H195.4 M191.6 358.6 H195.4 M191.6 339.6 H195.4 M191.6 320.5 H195.4 M195.4 396.8 V399.8 M206.9 396.8 V398.40000000000003 M213.6 396.8 V398.40000000000003 M218.3 396.8 V398.40000000000003 M222.0 396.8 V398.40000000000003 M225.0 396.8 V398.40000000000003 M227.6 396.8 V398.40000000000003 M229.8 396.8 V398.40000000000003 M231.7 396.8 V398.40000000000003 M233.5 396.8 V399.8 M244.9 396.8 V398.40000000000003 M251.6 396.8 V398.40000000000003 M256.4 396.8 V398.40000000000003 M260.1 396.8 V398.40000000000003 M263.1 396.8 V398.40000000000003 M265.6 396.8 V398.40000000000003 M267.9 396.8 V398.40000000000003 M269.8 396.8 V398.40000000000003 M271.5 396.8 V399.8 M283.0 396.8 V398.40000000000003 M289.7 396.8 V398.40000000000003 M294.5 396.8 V398.40000000000003 M298.1 396.8 V398.40000000000003 M301.2 396.8 V398.40000000000003 M303.7 396.8 V398.40000000000003 M305.9 396.8 V398.40000000000003 M307.9 396.8 V398.40000000000003 M309.6 396.8 V399.8" stroke="#111" stroke-width="0.9" fill="none"/>
<text x="195.4" y="409.8" font-size="8.6" text-anchor="middle" font-weight="normal" fill="#1a1a1a" stroke="#1a1a1a" stroke-width="0.15" textLength="4" lengthAdjust="spacingAndGlyphs" >1</text>
<text x="233.47" y="409.8" font-size="8.6" text-anchor="middle" font-weight="normal" fill="#1a1a1a" stroke="#1a1a1a" stroke-width="0.15" textLength="8.4" lengthAdjust="spacingAndGlyphs" >10</text>
<text x="271.54" y="409.8" font-size="8.6" text-anchor="middle" font-weight="normal" fill="#1a1a1a" stroke="#1a1a1a" stroke-width="0.15" textLength="13.0" lengthAdjust="spacingAndGlyphs" >100</text>
<text x="309.61" y="409.8" font-size="8.6" text-anchor="middle" font-weight="normal" fill="#1a1a1a" stroke="#1a1a1a" stroke-width="0.15" textLength="17.5" lengthAdjust="spacingAndGlyphs" >1000</text>
<line x1="196.3" y1="359.00" x2="309.21" y2="359.00" stroke="#1a1a1a" stroke-width="1.7" stroke-dasharray="1.05 1.1"/>
<path d="M225.7 375.9 L248.6 360.9 L271.5 344.0" stroke="#2a5597" stroke-width="1.4" fill="none"/>
<path d="M225.7 374.7 V377.0 M224.3 374.7 H227.1 M224.3 377.0 H227.1" stroke="#2a5597" stroke-width="0.8" fill="none"/>
<rect x="224.15" y="374.34" width="3.1" height="3.1" fill="#2a5597"/>
<path d="M248.6 359.8 V362.1 M247.2 359.8 H250.0 M247.2 362.1 H250.0" stroke="#2a5597" stroke-width="0.8" fill="none"/>
<rect x="247.07" y="359.39" width="3.1" height="3.1" fill="#2a5597"/>
<path d="M271.5 342.9 V345.1 M270.1 342.9 H272.9 M270.1 345.1 H272.9" stroke="#2a5597" stroke-width="0.8" fill="none"/>
<rect x="269.99" y="342.45" width="3.1" height="3.1" fill="#2a5597"/>
<path d="M225.7 377.9 L248.6 356.2 L271.5 342.9" stroke="#b3123b" stroke-width="1.4" fill="none"/>
<path d="M225.7 375.0 V380.8 M224.3 375.0 H227.1 M224.3 380.8 H227.1" stroke="#b3123b" stroke-width="0.8" fill="none"/>
<rect x="224.15" y="376.33" width="3.1" height="3.1" fill="#b3123b"/>
<path d="M248.6 352.4 V360.0 M247.2 352.4 H250.0 M247.2 360.0 H250.0" stroke="#b3123b" stroke-width="0.8" fill="none"/>
<rect x="247.07" y="354.66" width="3.1" height="3.1" fill="#b3123b"/>
<path d="M271.5 339.5 V346.4 M270.1 339.5 H272.9 M270.1 346.4 H272.9" stroke="#b3123b" stroke-width="0.8" fill="none"/>
<rect x="269.99" y="341.38" width="3.1" height="3.1" fill="#b3123b"/>
<text x="254.5" y="423.4" font-size="9.4" text-anchor="middle" font-weight="normal" fill="#1a1a1a" stroke="#1a1a1a" stroke-width="0.15" textLength="56.1" lengthAdjust="spacingAndGlyphs" >Venetoclax (nM)</text>
<text x="406.35" y="312.4" font-size="9.6" text-anchor="middle" font-weight="normal" fill="#1a1a1a" stroke="#1a1a1a" stroke-width="0.15" textLength="45.7" lengthAdjust="spacingAndGlyphs" >KMS12BM</text>
<path d="M347.2 318.6 V396.8 H464.8" stroke="#3a3a3a" stroke-width="1.7" fill="none"/>
<text x="340.8" y="399.8" font-size="8.6" text-anchor="end" font-weight="normal" fill="#1a1a1a" stroke="#1a1a1a" stroke-width="0.15" textLength="4.6" lengthAdjust="spacingAndGlyphs" >0</text>
<text x="340.8" y="380.725" font-size="8.6" text-anchor="end" font-weight="normal" fill="#1a1a1a" stroke="#1a1a1a" stroke-width="0.15" textLength="9.7" lengthAdjust="spacingAndGlyphs" >25</text>
<text x="340.8" y="361.65" font-size="8.6" text-anchor="end" font-weight="normal" fill="#1a1a1a" stroke="#1a1a1a" stroke-width="0.15" textLength="9.7" lengthAdjust="spacingAndGlyphs" >50</text>
<text x="340.8" y="342.575" font-size="8.6" text-anchor="end" font-weight="normal" fill="#1a1a1a" stroke="#1a1a1a" stroke-width="0.15" textLength="9.7" lengthAdjust="spacingAndGlyphs" >75</text>
<text x="340.8" y="323.5" font-size="8.6" text-anchor="end" font-weight="normal" fill="#1a1a1a" stroke="#1a1a1a" stroke-width="0.15" textLength="13.4" lengthAdjust="spacingAndGlyphs" >100</text>
<path d="M343.4 396.8 H347.2 M343.4 377.7 H347.2 M343.4 358.6 H347.2 M343.4 339.6 H347.2 M343.4 320.5 H347.2 M347.2 396.8 V399.8 M364.6 396.8 V398.40000000000003 M374.7 396.8 V398.40000000000003 M381.9 396.8 V398.40000000000003 M387.5 396.8 V398.40000000000003 M392.1 396.8 V398.40000000000003 M395.9 396.8 V398.40000000000003 M399.3 396.8 V398.40000000000003 M402.2 396.8 V398.40000000000003 M404.8 396.8 V399.8 M422.2 396.8 V398.40000000000003 M432.4 396.8 V398.40000000000003 M439.6 396.8 V398.40000000000003 M445.1 396.8 V398.40000000000003 M449.7 396.8 V398.40000000000003 M453.6 396.8 V398.40000000000003 M456.9 396.8 V398.40000000000003 M459.9 396.8 V398.40000000000003 M462.5 396.8 V399.8 M462.5 396.8 V399.8" stroke="#111" stroke-width="0.9" fill="none"/>
<text x="347.2" y="409.8" font-size="8.6" text-anchor="middle" font-weight="normal" fill="#1a1a1a" stroke="#1a1a1a" stroke-width="0.15" textLength="8.4" lengthAdjust="spacingAndGlyphs" >10</text>
<text x="404.84999999999997" y="409.8" font-size="8.6" text-anchor="middle" font-weight="normal" fill="#1a1a1a" stroke="#1a1a1a" stroke-width="0.15" textLength="13.0" lengthAdjust="spacingAndGlyphs" >100</text>
<text x="462.5" y="409.8" font-size="8.6" text-anchor="middle" font-weight="normal" fill="#1a1a1a" stroke="#1a1a1a" stroke-width="0.15" textLength="17.5" lengthAdjust="spacingAndGlyphs" >1000</text>
<line x1="348.09999999999997" y1="359.00" x2="462.10" y2="359.00" stroke="#1a1a1a" stroke-width="1.7" stroke-dasharray="1.05 1.1"/>
<path d="M387.5 380.7 L404.8 371.7 L422.2 364.1 L439.6 355.8" stroke="#b3123b" stroke-width="1.4" fill="none"/>
<path d="M387.5 378.6 V382.8 M386.1 378.6 H388.9 M386.1 382.8 H388.9" stroke="#b3123b" stroke-width="0.8" fill="none"/>
<rect x="385.95" y="379.15" width="3.1" height="3.1" fill="#b3123b"/>
<path d="M404.8 369.7 V373.7 M403.4 369.7 H406.2 M403.4 373.7 H406.2" stroke="#b3123b" stroke-width="0.8" fill="none"/>
<rect x="403.30" y="370.15" width="3.1" height="3.1" fill="#b3123b"/>
<path d="M422.2 361.8 V366.4 M420.8 361.8 H423.6 M420.8 366.4 H423.6" stroke="#b3123b" stroke-width="0.8" fill="none"/>
<rect x="420.65" y="362.52" width="3.1" height="3.1" fill="#b3123b"/>
<path d="M439.6 354.0 V357.7 M438.2 354.0 H441.0 M438.2 357.7 H441.0" stroke="#b3123b" stroke-width="0.8" fill="none"/>
<rect x="438.01" y="354.28" width="3.1" height="3.1" fill="#b3123b"/>
<path d="M387.5 365.2 L404.8 355.3 L422.2 348.4 L439.6 341.5" stroke="#2a5597" stroke-width="1.4" fill="none"/>
<path d="M387.5 364.4 V366.0 M386.1 364.4 H388.9 M386.1 366.0 H388.9" stroke="#2a5597" stroke-width="0.8" fill="none"/>
<rect x="385.95" y="363.66" width="3.1" height="3.1" fill="#2a5597"/>
<path d="M404.8 354.5 V356.1 M403.4 354.5 H406.2 M403.4 356.1 H406.2" stroke="#2a5597" stroke-width="0.8" fill="none"/>
<rect x="403.30" y="353.74" width="3.1" height="3.1" fill="#2a5597"/>
<path d="M422.2 347.7 V349.2 M420.8 347.7 H423.6 M420.8 349.2 H423.6" stroke="#2a5597" stroke-width="0.8" fill="none"/>
<rect x="420.65" y="346.88" width="3.1" height="3.1" fill="#2a5597"/>
<path d="M439.6 340.7 V342.2 M438.2 340.7 H441.0 M438.2 342.2 H441.0" stroke="#2a5597" stroke-width="0.8" fill="none"/>
<rect x="438.01" y="339.93" width="3.1" height="3.1" fill="#2a5597"/>
<text x="404.5" y="423.2" font-size="9.4" text-anchor="middle" font-weight="normal" fill="#1a1a1a" stroke="#1a1a1a" stroke-width="0.15" textLength="54.8" lengthAdjust="spacingAndGlyphs" >Venetoclax (nM)</text>
<path d="M468.1 327.2 H476.6" stroke="#b3123b" stroke-width="1.3"/>
<rect x="470.90000000000003" y="325.8" width="2.8" height="2.8" fill="#b3123b"/>
<text x="479.5" y="329.6" font-size="8.8" text-anchor="start" font-weight="normal" fill="#1a1a1a" stroke="#1a1a1a" stroke-width="0.15" textLength="32.8" lengthAdjust="spacingAndGlyphs" >control si</text>
<path d="M468.1 338.8 H476.6" stroke="#2a5597" stroke-width="1.3"/>
<rect x="470.90000000000003" y="337.40000000000003" width="2.8" height="2.8" fill="#2a5597"/>
<text x="479.5" y="340.5" font-size="8.8" text-anchor="start" font-weight="normal" fill="#1a1a1a" stroke="#1a1a1a" stroke-width="0.15" textLength="32.8" lengthAdjust="spacingAndGlyphs" >CCND1 si</text>
</svg>
</body></html>
